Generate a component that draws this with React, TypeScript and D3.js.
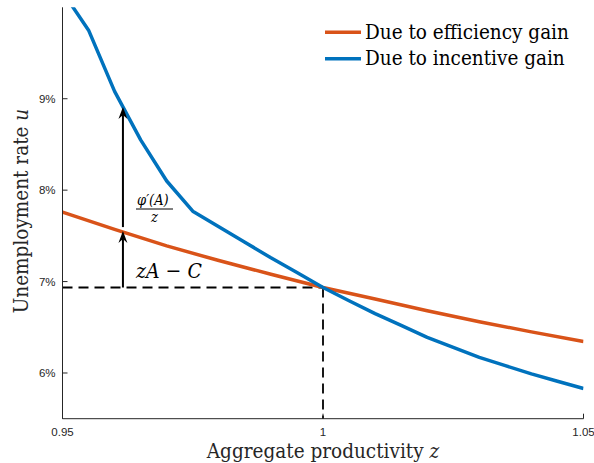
import React from "react";
import * as d3 from "d3";

// Productivity grid and unemployment rates (%) for the two channels
const zEfficiency = [0.95, 0.96, 0.97, 0.98, 0.99, 1.0, 1.01, 1.02, 1.03, 1.04, 1.05];
const uEfficiency = [7.76, 7.57, 7.39, 7.23, 7.08, 6.935, 6.81, 6.68, 6.56, 6.45, 6.345];

const zIncentive = [
  0.95, 0.955, 0.96, 0.965, 0.97, 0.975, 0.98, 0.985, 0.99, 0.995, 1.0,
  1.005, 1.01, 1.015, 1.02, 1.025, 1.03, 1.035, 1.04, 1.045, 1.05,
];
const uIncentive = [
  10.17, 9.75, 9.08, 8.55, 8.1, 7.77, 7.6, 7.43, 7.26, 7.1, 6.935,
  6.79, 6.65, 6.52, 6.39, 6.28, 6.17, 6.08, 5.99, 5.91, 5.83,
];

const xTicks = [0.95, 1, 1.05];
const xTickLabels = ["0.95", "1", "1.05"];
const yTicks = [6, 7, 8, 9];
const yTickLabels = ["6%", "7%", "8%", "9%"];

const seriesNames = ["Due to efficiency gain", "Due to incentive gain"];
const seriesColors = ["#D95319", "#0072BD"];

// Steady state and decomposition point
const zSteady = 1.0;
const uSteady = 6.935;
const zArrow = 0.9616;

const W = 594;
const H = 463;
const serif = "DejaVu Serif Condensed, DejaVu Serif, serif";
const sans = "Liberation Sans, Arial, Helvetica, sans-serif";
const axisColor = "#262626";

export default function App() {
  const x = d3.scaleLinear().domain([0.95, 1.05]).range([62.5, 583.5]);
  const y = d3.scaleLinear().domain([5.5, 10]).range([418.7, 7.3]);

  const line = d3
    .line<[number, number]>()
    .x((d) => x(d[0]))
    .y((d) => y(d[1]));

  const effPts = zEfficiency.map((z, i) => [z, uEfficiency[i]] as [number, number]);
  const incPts = zIncentive.map((z, i) => [z, uIncentive[i]] as [number, number]);

  const interp = (zs: number[], us: number[], z: number) => {
    const i = d3.bisectRight(zs, z) - 1;
    const t = (z - zs[i]) / (zs[i + 1] - zs[i]);
    return us[i] + t * (us[i + 1] - us[i]);
  };
  const uEffAt = interp(zEfficiency, uEfficiency, zArrow);
  const uIncAt = interp(zIncentive, uIncentive, zArrow);

  const ax = x(zArrow);
  const arrowHead = (tipY: number) =>
    `M${ax},${tipY} L${ax - 4.5},${tipY + 12} L${ax},${tipY + 8} L${ax + 4.5},${tipY + 12} Z`;

  const [x0, x1] = x.range();
  const [yb, yt] = y.range();

  return (
    <svg
      width={W}
      height={H}
      style={{ position: "absolute", left: 0, top: 0, background: "#fff" }}
    >
      <defs>
        <clipPath id="plotArea">
          <rect x={x0} y={yt} width={x1 - x0} height={yb - yt} />
        </clipPath>
      </defs>

      {/* steady-state guides */}
      <g stroke="#000" strokeWidth={1.8} strokeDasharray="10,6" fill="none">
        <line x1={x0} x2={x(zSteady)} y1={y(uSteady)} y2={y(uSteady)} />
        <line x1={x(zSteady)} x2={x(zSteady)} y1={y(uSteady)} y2={yb} />
      </g>

      {/* series */}
      <g clipPath="url(#plotArea)" fill="none" strokeWidth={3.5} strokeLinejoin="round">
        <path d={line(effPts) ?? ""} stroke={seriesColors[0]} />
        <path d={line(incPts) ?? ""} stroke={seriesColors[1]} />
      </g>

      {/* decomposition arrows */}
      <g stroke="#000" strokeWidth={2} fill="none">
        <line x1={ax} x2={ax} y1={y(uSteady)} y2={y(uEffAt) + 6} />
        <line x1={ax} x2={ax} y1={y(uEffAt) - 5} y2={y(uIncAt) + 6} />
      </g>
      <path d={arrowHead(y(uEffAt) - 1)} fill="#000" />
      <path d={arrowHead(y(uIncAt))} fill="#000" />

      {/* annotations */}
      <g style={{ fontFamily: serif }} fill="#000">
        <text x={137} y={205} fontSize={14.5} fontStyle="italic">
          φ′(A)
        </text>
        <line x1={136} x2={173} y1={209} y2={209} stroke="#000" strokeWidth={1} />
        <text x={154.5} y={222} fontSize={14.5} fontStyle="italic" textAnchor="middle">
          z
        </text>
        <text x={136} y={278} fontSize={21} fontStyle="italic">
          zA <tspan fontStyle="normal">−</tspan> C
        </text>
      </g>

      {/* axes */}
      <g stroke={axisColor} strokeWidth={1} fill="none">
        <line x1={x0} x2={x0} y1={yt} y2={yb} />
        <line x1={x0} x2={x1} y1={yb} y2={yb} />
        {yTicks.map((t) => (
          <line key={"yt" + t} x1={x0} x2={x0 + 5} y1={y(t)} y2={y(t)} />
        ))}
        {xTicks.map((t) => (
          <line key={"xt" + t} x1={x(t)} x2={x(t)} y1={yb} y2={yb - 5} />
        ))}
      </g>
      <g style={{ fontFamily: sans }} fontSize={11.5} fill={axisColor}>
        {yTicks.map((t, i) => (
          <text key={"yl" + t} x={x0 - 7} y={y(t) + 4} textAnchor="end">
            {yTickLabels[i]}
          </text>
        ))}
        {xTicks.map((t, i) => (
          <text key={"xl" + t} x={x(t)} y={yb + 17.5} textAnchor="middle">
            {xTickLabels[i]}
          </text>
        ))}
      </g>

      {/* axis titles */}
      <text x={323} y={458} style={{ fontFamily: serif }} fontSize={20.5} textAnchor="middle" fill={axisColor}>
        Aggregate productivity <tspan fontStyle="italic">z</tspan>
      </text>
      <text
        transform={`translate(28,211) rotate(-90)`}
        style={{ fontFamily: serif }}
        fontSize={20.5}
        textAnchor="middle"
        fill={axisColor}
      >
        Unemployment rate <tspan fontStyle="italic">u</tspan>
      </text>

      {/* legend */}
      {seriesNames.map((name, i) => (
        <g key={name}>
          <line
            x1={325}
            x2={361}
            y1={32.3 + i * 26.5}
            y2={32.3 + i * 26.5}
            stroke={seriesColors[i]}
            strokeWidth={3.5}
          />
          <text x={365} y={32.3 + i * 26.5 + 6.5} style={{ fontFamily: serif }} fontSize={20.5} fill="#000">
            {name}
          </text>
        </g>
      ))}
    </svg>
  );
}
